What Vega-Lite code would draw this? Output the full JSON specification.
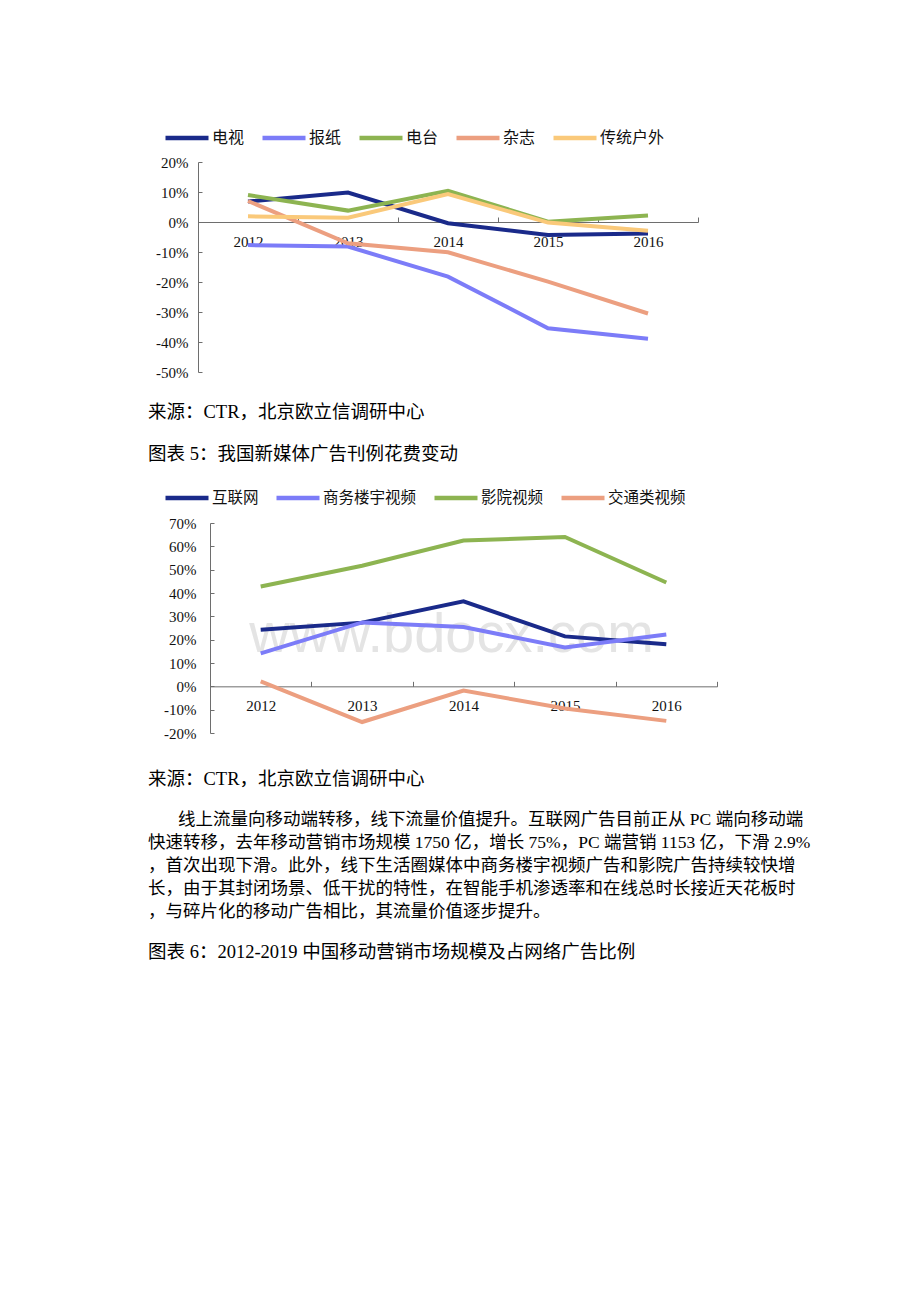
{
  "$schema": "https://vega.github.io/schema/vega-lite/v6.json",
  "background": "white",
  "padding": {"left": 148, "top": 114, "right": 10, "bottom": 10},
  "spacing": 0,
  "resolve": {"scale": {"color": "independent", "x": "independent", "y": "independent"}, "legend": {"color": "independent"}},
  "config": {
    "view": {"stroke": null},
    "font": "Liberation Serif, Noto Sans CJK SC",
    "axis": {
      "domainColor": "#6e6e6e",
      "tickColor": "#6e6e6e",
      "labelFont": "Liberation Serif",
      "labelFontSize": 15,
      "labelColor": "#111111",
      "grid": false,
      "title": null
    },
    "legend": {
      "orient": "none",
      "direction": "horizontal",
      "title": null,
      "symbolType": "stroke",
      "symbolSize": 1849,
      "symbolStrokeWidth": 4.5,
      "labelFont": "Noto Sans CJK SC",
      "labelFontSize": 16,
      "labelColor": "#111111",
      "labelOffset": 1,
      "labelLimit": 0,
      "columnPadding": 8,
      "padding": 0
    }
  },
  "vconcat": [
    {
      "width": 500,
      "height": 210,
      "data": {"values": [
        {"year": "2012", "series": "电视", "value": 0.068},
        {"year": "2013", "series": "电视", "value": 0.098},
        {"year": "2014", "series": "电视", "value": -0.004},
        {"year": "2015", "series": "电视", "value": -0.043},
        {"year": "2016", "series": "电视", "value": -0.038},
        {"year": "2012", "series": "报纸", "value": -0.077},
        {"year": "2013", "series": "报纸", "value": -0.082},
        {"year": "2014", "series": "报纸", "value": -0.182},
        {"year": "2015", "series": "报纸", "value": -0.354},
        {"year": "2016", "series": "报纸", "value": -0.389},
        {"year": "2012", "series": "电台", "value": 0.09},
        {"year": "2013", "series": "电台", "value": 0.038},
        {"year": "2014", "series": "电台", "value": 0.104},
        {"year": "2015", "series": "电台", "value": 0.001},
        {"year": "2016", "series": "电台", "value": 0.022},
        {"year": "2012", "series": "杂志", "value": 0.07},
        {"year": "2013", "series": "杂志", "value": -0.071},
        {"year": "2014", "series": "杂志", "value": -0.101},
        {"year": "2015", "series": "杂志", "value": -0.199},
        {"year": "2016", "series": "杂志", "value": -0.305},
        {"year": "2012", "series": "传统户外", "value": 0.019},
        {"year": "2013", "series": "传统户外", "value": 0.014},
        {"year": "2014", "series": "传统户外", "value": 0.093},
        {"year": "2015", "series": "传统户外", "value": -0.002},
        {"year": "2016", "series": "传统户外", "value": -0.029}
      ]},
      "mark": {"type": "line", "strokeWidth": 4},
      "encoding": {
        "x": {
          "field": "year", "type": "ordinal",
          "scale": {"type": "band", "paddingInner": 0, "paddingOuter": 0},
          "axis": {"labelAngle": 0, "offset": -150, "tickSize": -5, "tickBand": "extent", "labelPadding": 17}
        },
        "y": {
          "field": "value", "type": "quantitative",
          "scale": {"domain": [-0.5, 0.2], "nice": false, "zero": false},
          "axis": {
            "values": [-0.5, -0.4, -0.3, -0.2, -0.1, 0, 0.1, 0.2],
            "labelExpr": "(datum.value < -0.001 ? '-' : '') + format(abs(datum.value), '.0%')",
            "tickSize": -4, "labelPadding": 14, "minExtent": 50
          }
        },
        "color": {
          "field": "series", "type": "nominal",
          "scale": {
            "domain": ["电视", "报纸", "电台", "杂志", "传统户外"],
            "range": ["#1a2a8a", "#7c7cf8", "#8db451", "#ec9f80", "#fac97a"]
          },
          "legend": {"legendX": -35, "legendY": -48}
        }
      }
    },
    {
      "width": 700,
      "height": 94,
      "data": {"values": [
        {"line": 0, "text": "来源：CTR，北京欧立信调研中心"},
        {"line": 1, "text": "图表 5：我国新媒体广告刊例花费变动"}
      ]},
      "mark": {"type": "text", "align": "left", "baseline": "middle", "fontSize": 18.5, "color": "#000000"},
      "encoding": {
        "y": {"field": "line", "type": "quantitative", "axis": null,
              "scale": {"domain": [-0.75, 1.488], "reverse": true, "nice": false, "zero": false}},
        "x": {"value": -50},
        "text": {"field": "text"}
      }
    },
    {
      "width": 519,
      "height": 210,
      "layer": [
        {
          "data": {"values": [{"year": "2014", "value": 0.22, "wm": "www.bdocx.com"}]},
          "mark": {"type": "text", "font": "Liberation Sans", "fontSize": 56, "fill": "#e4e4e4", "dx": -12, "baseline": "middle", "align": "center"},
          "encoding": {
            "text": {"field": "wm", "type": "nominal"}
          }
        },
        {
          "data": {"values": [
            {"year": "2012", "series": "互联网", "value": 0.242},
            {"year": "2013", "series": "互联网", "value": 0.273},
            {"year": "2014", "series": "互联网", "value": 0.364},
            {"year": "2015", "series": "互联网", "value": 0.214},
            {"year": "2016", "series": "互联网", "value": 0.18},
            {"year": "2012", "series": "商务楼宇视频", "value": 0.141},
            {"year": "2013", "series": "商务楼宇视频", "value": 0.274},
            {"year": "2014", "series": "商务楼宇视频", "value": 0.254},
            {"year": "2015", "series": "商务楼宇视频", "value": 0.167},
            {"year": "2016", "series": "商务楼宇视频", "value": 0.222},
            {"year": "2012", "series": "影院视频", "value": 0.428},
            {"year": "2013", "series": "影院视频", "value": 0.517},
            {"year": "2014", "series": "影院视频", "value": 0.625},
            {"year": "2015", "series": "影院视频", "value": 0.64},
            {"year": "2016", "series": "影院视频", "value": 0.445},
            {"year": "2012", "series": "交通类视频", "value": 0.021},
            {"year": "2013", "series": "交通类视频", "value": -0.153},
            {"year": "2014", "series": "交通类视频", "value": -0.018},
            {"year": "2015", "series": "交通类视频", "value": -0.095},
            {"year": "2016", "series": "交通类视频", "value": -0.148}
          ]},
          "mark": {"type": "line", "strokeWidth": 4},
          "encoding": {
            "color": {
              "field": "series", "type": "nominal",
              "scale": {
                "domain": ["互联网", "商务楼宇视频", "影院视频", "交通类视频"],
                "range": ["#1a2a8a", "#7c7cf8", "#8db451", "#ec9f80"]
              },
              "legend": {"legendX": -35, "legendY": -49, "labelFontSize": 15.5}
            }
          }
        }
      ],
      "encoding": {
        "x": {
          "field": "year", "type": "ordinal",
          "scale": {"type": "band", "paddingInner": 0, "paddingOuter": 0, "range": [12, 519], "domain": ["2012", "2013", "2014", "2015", "2016"]},
          "axis": {"labelAngle": 0, "offset": -46.67, "tickSize": -5, "tickBand": "extent", "labelPadding": 17}
        },
        "y": {
          "field": "value", "type": "quantitative",
          "scale": {"domain": [-0.2, 0.7], "nice": false, "zero": false},
          "axis": {
            "values": [-0.2, -0.1, 0, 0.1, 0.2, 0.3, 0.4, 0.5, 0.6, 0.7],
            "labelExpr": "(datum.value < -0.001 ? '-' : '') + format(abs(datum.value), '.0%')",
            "tickSize": -4, "labelPadding": 18, "offset": -12
          }
        }
      }
    },
    {
      "width": 700,
      "height": 240,
      "resolve": {"scale": {"y": "independent"}},
      "layer": [
        {
          "data": {"values": [
            {"line": 0, "text": "来源：CTR，北京欧立信调研中心"},
            {"line": 1, "text": "图表 6：2012-2019 中国移动营销市场规模及占网络广告比例"}
          ]},
          "mark": {"type": "text", "align": "left", "baseline": "middle", "fontSize": 18.5, "color": "#000000"},
          "encoding": {
            "y": {"field": "line", "type": "quantitative", "axis": null,
                  "scale": {"domain": [-0.2225, 1.1648], "reverse": true, "nice": false, "zero": false}},
            "x": {"value": -50},
            "text": {"field": "text"}
          }
        },
        {
          "data": {"values": [
            {"line": 0, "text": "线上流量向移动端转移，线下流量价值提升。互联网广告目前正从 PC 端向移动端"}
          ]},
          "mark": {"type": "text", "align": "left", "baseline": "middle", "fontSize": 17.5, "color": "#000000", "dx": 30},
          "encoding": {
            "y": {"field": "line", "type": "quantitative", "axis": null,
                  "scale": {"domain": [-3.4565, 6.9783], "reverse": true, "nice": false, "zero": false}},
            "x": {"value": -50},
            "text": {"field": "text"}
          }
        },
        {
          "data": {"values": [
            {"line": 1, "text": "快速转移，去年移动营销市场规模 1750 亿，增长 75%，PC 端营销 1153 亿，下滑 2.9%"},
            {"line": 2, "text": "，首次出现下滑。此外，线下生活圈媒体中商务楼宇视频广告和影院广告持续较快增"},
            {"line": 3, "text": "长，由于其封闭场景、低干扰的特性，在智能手机渗透率和在线总时长接近天花板时"},
            {"line": 4, "text": "，与碎片化的移动广告相比，其流量价值逐步提升。"}
          ]},
          "mark": {"type": "text", "align": "left", "baseline": "middle", "fontSize": 17.5, "color": "#000000"},
          "encoding": {
            "y": {"field": "line", "type": "quantitative", "axis": null,
                  "scale": {"domain": [-3.4565, 6.9783], "reverse": true, "nice": false, "zero": false}},
            "x": {"value": -50},
            "text": {"field": "text"}
          }
        }
      ]
    }
  ]
}
